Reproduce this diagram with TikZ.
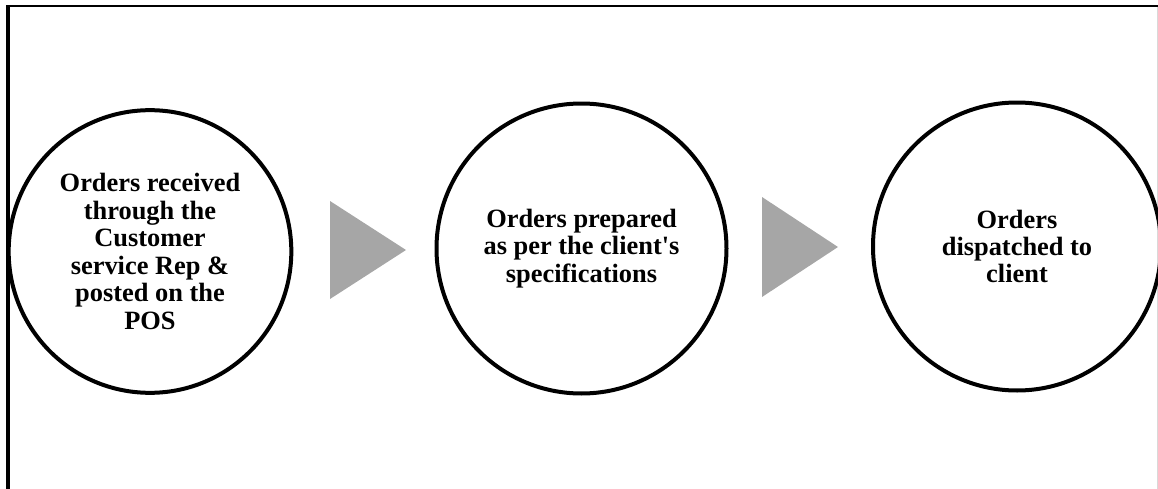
\documentclass[tikz,border=0pt]{standalone}
\usepackage{fontspec}
\setmainfont{Liberation Serif}
\definecolor{arrowgray}{HTML}{A6A6A6}
\definecolor{edgegray}{HTML}{D9D9D9}
\tikzset{
  stepcircle/.style={circle, draw=black, line width=3pt, inner sep=0pt,
    align=center, font=\bfseries\fontsize{19.8}{20.6}\selectfont},
  chevron/.style={fill=arrowgray, draw=none}
}
\begin{document}
\begin{tikzpicture}[x=0.75pt, y=-0.75pt]
\useasboundingbox (0,0) rectangle (1158,489);
\clip (0,0) rectangle (1158,489);
% frame
\draw[line width=1.5pt] (6,6) -- (1158,6);
\draw[edgegray, line width=0.75pt] (1157,7) -- (1157,489);
\draw[line width=3pt] (8,5) -- (8,489);
% steps
\node[stepcircle, minimum size=212pt] (s1) at (150,251.5)
  {Orders received\\through the\\Customer\\service Rep \&\\posted on the\\POS};
\node[stepcircle, minimum size=217.5pt] (s2) at (581.5,248.5)
  {Orders prepared\\as per the client\textquotesingle s\\specifications};
\node[stepcircle, minimum size=216pt] (s3) at (1017,246.5)
  {Orders\\dispatched to\\client};
% arrows
\coordinate (a1t) at (330,201);
\coordinate (a1b) at (330,299);
\coordinate (a1p) at (406,250);
\fill[chevron] (a1t) -- (a1p) -- (a1b) -- cycle;
\coordinate (a2t) at (762,197);
\coordinate (a2b) at (762,297);
\coordinate (a2p) at (838,247);
\fill[chevron] (a2t) -- (a2p) -- (a2b) -- cycle;
\end{tikzpicture}
\end{document}
